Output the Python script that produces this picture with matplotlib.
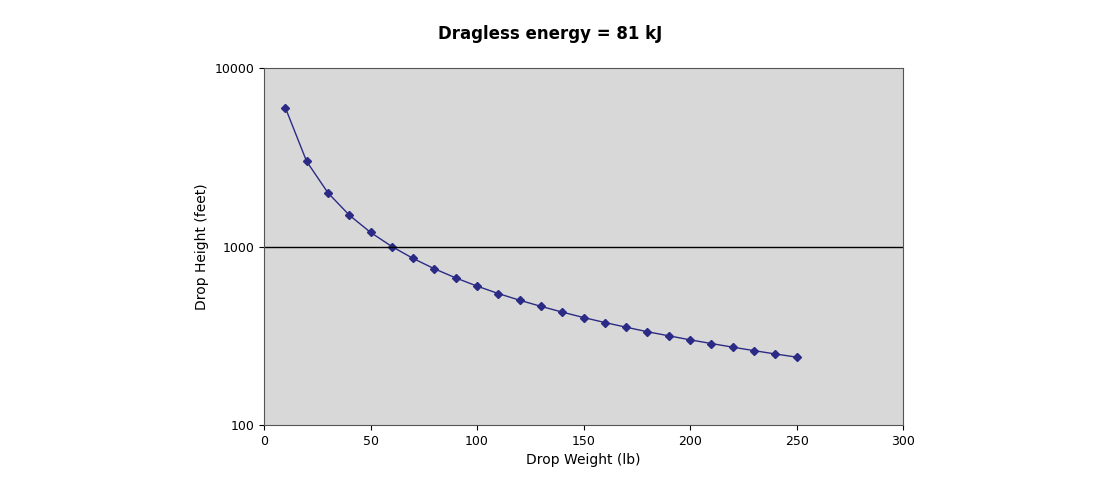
import matplotlib
matplotlib.use("Agg")
import matplotlib.pyplot as plt

weights = [10,20,30,40,50,60,70,80,90,100,110,120,130,140,150,160,170,180,190,200,210,220,230,240,250]
heights = [6000,3000,2000,1500,1200,1000,857,750,667,600,545,500,462,429,400,375,353,333,316,300,286,273,261,250,240]
xticks = [0,50,100,150,200,250,300]
yticks = [100,1000,10000]

fig = plt.figure(figsize=(11,5), dpi=100)
ax = fig.add_axes([0.24,0.15,0.581,0.714])
ax.set_facecolor("#d8d8d8")
ax.plot(weights, heights, color="#2b2b85", marker="D", markersize=4, linewidth=1)
ax.set_yscale("log")
ax.set_xlim(0,300); ax.set_ylim(100,10000)
ax.set_xticks(xticks); ax.set_yticks(yticks)
ax.set_yticklabels([str(t) for t in yticks])
ax.minorticks_off()
ax.axhline(1000, color="black", linewidth=1)
ax.tick_params(labelsize=9)
for s in ax.spines.values():
    s.set_color("#555555")
ax.set_xlabel("Drop Weight (lb)", fontsize=10)
ax.set_ylabel("Drop Height (feet)", fontsize=10)
fig.suptitle("Dragless energy = 81 kJ", fontsize=12, fontweight="bold", y=0.95)
fig.savefig("out.png", facecolor="white")
